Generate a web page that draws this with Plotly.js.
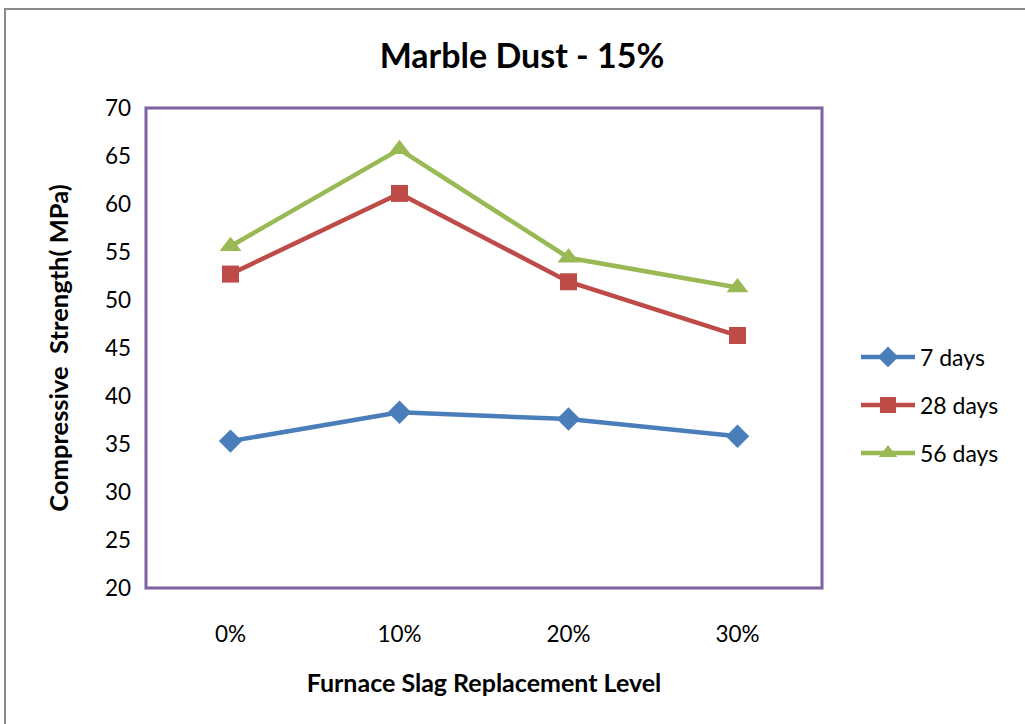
<!DOCTYPE html>
<html>
<head>
<meta charset="utf-8">
<script src="https://cdn.plot.ly/plotly-3.0.1.min.js"></script>
<style>body{margin:0;padding:0;background:#fff;}#chart{width:1025px;height:724px;}</style>
</head>
<body>
<div id="chart"></div>
<script>
const categories = ["0%", "10%", "20%", "30%"];
const days7 = [35.3, 38.3, 37.6, 35.8];
const days28 = [52.7, 61.1, 51.9, 46.3];
const days56 = [55.6, 65.7, 54.4, 51.3];
const seriesNames = ["7 days", "28 days", "56 days"];

const L = 146, R = 822, T = 108, B = 588, W = 1025, H = 724;
const pw = R - L, ph = B - T;
const px = x => (x - L) / pw;
const py = y => (B - y) / ph;

const font = "Lato, 'Open Sans', sans-serif";

function tr(y, name, color, symbol, size, leg) {
  return {
    x: categories, y: y, name: name, type: 'scatter', mode: 'lines+markers',
    line: {color: color, width: 4.5},
    marker: {color: color, symbol: symbol, size: size},
    legend: leg
  };
}

const data = [
  tr(days7, seriesNames[0], '#4A7EBB', 'diamond', 18, 'legend'),
  tr(days28, seriesNames[1], '#BE4B48', 'square', 17, 'legend2'),
  tr(days56, seriesNames[2], '#98B954', 'triangle-up', 19, 'legend3')
];

function leg(yPix) {
  return {
    x: px(856), y: py(yPix), xanchor: 'left', yanchor: 'middle', xref: 'paper', yref: 'paper',
    font: {family: font, size: 23, color: '#000'}, bgcolor: 'rgba(0,0,0,0)', itemwidth: 54
  };
}

const layout = {
  width: W, height: H,
  margin: {l: L, r: W - R, t: T, b: H - B, pad: 0},
  paper_bgcolor: '#fff', plot_bgcolor: '#fff',
  title: {text: '<b>Marble Dust - 15%</b>', font: {family: font, size: 34, color: '#000'},
          x: px(522), xanchor: 'center', y: 1 - 56 / H, yanchor: 'middle', xref: 'paper', yref: 'container'},
  xaxis: {
    type: 'category', range: [-0.5, 3.5], showgrid: false, zeroline: false, showline: false,
    ticks: '', ticklabelstandoff: 30,
    tickfont: {family: font, size: 22.5, color: '#000'},
    title: {text: '<b>Furnace Slag Replacement Level</b>', font: {family: font, size: 25, color: '#000'}, standoff: 28}
  },
  yaxis: {
    range: [20, 70], dtick: 5, tick0: 20, showgrid: false, zeroline: false, showline: false,
    ticks: '', ticklabelstandoff: 14,
    tickfont: {family: font, size: 22.5, color: '#000'},
    title: {text: '<b>Compressive  Strength( MPa)</b>', font: {family: font, size: 25.5, color: '#000'}, standoff: 28}
  },
  showlegend: true,
  legend: leg(357), legend2: leg(405), legend3: leg(453),
  shapes: [
    {type: 'rect', xref: 'paper', yref: 'paper', x0: 0, x1: 1, y0: 0, y1: 1,
     line: {color: '#7F63A1', width: 3}, fillcolor: 'rgba(0,0,0,0)', layer: 'below'},
    {type: 'rect', xref: 'paper', yref: 'paper', x0: px(5), x1: px(1100), y0: py(800), y1: py(9),
     line: {color: '#888888', width: 2}, fillcolor: 'rgba(0,0,0,0)', layer: 'below'}
  ]
};

Plotly.newPlot('chart', data, layout, {displayModeBar: false, staticPlot: true}).then(function (gd) {
  gd.querySelectorAll('.legendlines path').forEach(function (p) { p.setAttribute('d', 'M5,0h54'); });
  gd.querySelectorAll('.legendpoints path').forEach(function (p) { p.setAttribute('transform', 'translate(32,0)'); });
});
</script>
</body>
</html>
